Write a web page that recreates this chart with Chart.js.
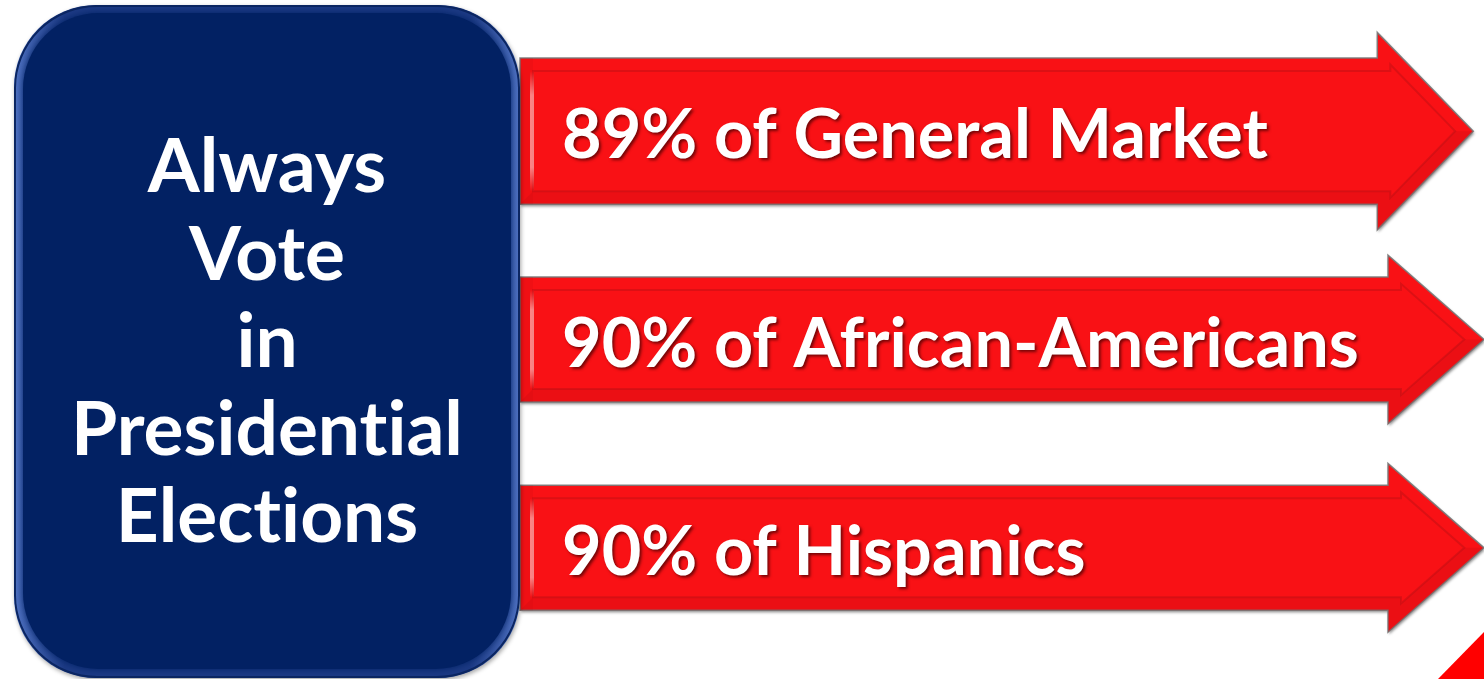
<!DOCTYPE html>
<html>
<head>
<meta charset="utf-8">
<script src="https://cdn.jsdelivr.net/npm/chart.js@4.4.1/dist/chart.umd.min.js"></script>
<style>
  html, body { margin: 0; padding: 0; background: #fff; }
  #wrap { width: 1484px; height: 679px; }
</style>
</head>
<body>
<div id="wrap"><canvas id="voteChart" width="1484" height="679"></canvas></div>
<script>
// data
const groups = ["General Market", "African-Americans", "Hispanics"];
const pct = [89, 90, 90];
const titleLines = ["Always", "Vote", "in", "Presidential", "Elections"];

// look
const FONT = "Lato";
const RED = "#f91115";
const NAVY = "#022163";
const arrowBoost = [1.17, 1, 1];   // first arrow is drawn a bit fatter
const HEAD_LEN = 96;
const HEAD_RATIO = 1.35;

const labels = groups.map((g, i) => pct[i] + "% of " + g);

// font size so that a sample string gets a given width
function fitFont(ctx, sample, width) {
  ctx.font = "bold 100px " + FONT;
  return 100 * width / ctx.measureText(sample).width;
}

function arrowPoints(x0, x1, cy, h, hh, L) {
  return [
    [x0, cy - h], [x1 - L, cy - h], [x1 - L, cy - hh], [x1, cy],
    [x1 - L, cy + hh], [x1 - L, cy + h], [x0, cy + h]
  ];
}

function innerPoints(x0, x1, cy, h, hh, L, d) {
  const len = Math.hypot(L, hh);
  const ax = x1 - L - d * hh / len;
  const ay = cy - hh + d * L / len;
  const bx = x1 - L + d;
  const by = ay + (bx - ax) / L * hh;
  const tx = ax + (cy - ay) / hh * L;
  return [
    [x0 + d, cy - h + d], [bx, cy - h + d], [bx, by], [tx, cy],
    [bx, 2 * cy - by], [bx, cy + h - d], [x0 + d, cy + h - d]
  ];
}

function poly(ctx, pts) {
  ctx.beginPath();
  pts.forEach((p, i) => i ? ctx.lineTo(p[0], p[1]) : ctx.moveTo(p[0], p[1]));
  ctx.closePath();
}

function roundBox(ctx, x, y, w, h, r) {
  ctx.beginPath();
  ctx.moveTo(x + r, y);
  ctx.lineTo(x + w - r, y);
  ctx.arcTo(x + w, y, x + w, y + r, r);
  ctx.lineTo(x + w, y + h - r);
  ctx.arcTo(x + w, y + h, x + w - r, y + h, r);
  ctx.lineTo(x + r, y + h);
  ctx.arcTo(x, y + h, x, y + h - r, r);
  ctx.lineTo(x, y + r);
  ctx.arcTo(x, y, x + r, y, r);
  ctx.closePath();
}

const infographic = {
  id: "infographic",
  afterDatasetsDraw(chart) {
    const ctx = chart.ctx;
    const meta = chart.getDatasetMeta(0);
    ctx.textRendering = "optimizeSpeed";   // no "ti" ligature

    // arrows, one per bar
    const txtSize = fitFont(ctx, "90% of African-Americans", 797);
    meta.data.forEach((bar, i) => {
      const x0 = bar.base, x1 = bar.x, cy = bar.y;
      const h = bar.height / 2 * arrowBoost[i];
      const hh = h * HEAD_RATIO;
      const outer = arrowPoints(x0, x1, cy, h, hh, HEAD_LEN);
      const inner = innerPoints(x0, x1, cy, h, hh, HEAD_LEN, 13);

      ctx.save();
      ctx.shadowColor = "rgba(0,0,0,0.45)";
      ctx.shadowBlur = 3;
      ctx.shadowOffsetX = 1;
      ctx.shadowOffsetY = 2;
      poly(ctx, outer);
      ctx.fillStyle = RED;
      ctx.fill();
      ctx.restore();

      ctx.save();
      poly(ctx, outer);
      ctx.strokeStyle = "rgba(120,120,120,0.9)";
      ctx.lineWidth = 1.5;
      ctx.stroke();

      // bevel: darker lower bands, soft inner rim
      ctx.fillStyle = "rgba(170,10,15,0.18)";
      ctx.beginPath();
      ctx.moveTo(outer[3][0], outer[3][1]);
      ctx.lineTo(outer[4][0], outer[4][1]);
      ctx.lineTo(outer[5][0], outer[5][1]);
      ctx.lineTo(outer[6][0], outer[6][1]);
      ctx.lineTo(inner[6][0], inner[6][1]);
      ctx.lineTo(inner[5][0], inner[5][1]);
      ctx.lineTo(inner[4][0], inner[4][1]);
      ctx.lineTo(inner[3][0], inner[3][1]);
      ctx.closePath();
      ctx.fill();
      ctx.fillStyle = "rgba(170,10,15,0.10)";
      ctx.fillRect(outer[0][0], outer[0][1], 13, outer[6][1] - outer[0][1]);

      poly(ctx, inner);
      ctx.strokeStyle = "rgba(185,15,20,0.45)";
      ctx.lineWidth = 2;
      ctx.stroke();

      // left highlight strip
      const g = ctx.createLinearGradient(0, inner[0][1], 0, inner[6][1]);
      g.addColorStop(0, "rgba(255,170,170,0)");
      g.addColorStop(0.2, "rgba(255,170,170,0.75)");
      g.addColorStop(0.8, "rgba(255,170,170,0.75)");
      g.addColorStop(1, "rgba(255,170,170,0)");
      ctx.fillStyle = g;
      ctx.fillRect(inner[0][0] - 3, inner[0][1], 4, inner[6][1] - inner[0][1]);
      ctx.restore();

      // label
      ctx.save();
      ctx.font = "bold " + txtSize + "px " + FONT;
      const cap = ctx.measureText("H").actualBoundingBoxAscent;
      ctx.fillStyle = "#fff";
      ctx.textAlign = "left";
      ctx.textBaseline = "alphabetic";
      ctx.shadowColor = "rgba(60,0,0,0.7)";
      ctx.shadowBlur = 3;
      ctx.shadowOffsetX = 2;
      ctx.shadowOffsetY = 2;
      ctx.fillText(labels[i], 562, cy + cap / 2 + 2);
      ctx.restore();
    });

    // navy rounded panel on the left
    const bx = 14, by = 5, bw = 506, bh = 673, r = 82;
    ctx.save();
    ctx.shadowColor = "rgba(0,0,0,0.35)";
    ctx.shadowBlur = 4;
    ctx.shadowOffsetX = 1;
    ctx.shadowOffsetY = 2;
    roundBox(ctx, bx, by, bw, bh, r);
    const rim = ctx.createLinearGradient(bx, 0, bx + bw, 0);
    rim.addColorStop(0, "#4f72c2");
    rim.addColorStop(0.1, "#1c3a84");
    rim.addColorStop(0.9, "#1c3a84");
    rim.addColorStop(1, "#4f72c2");
    ctx.fillStyle = rim;
    ctx.fill();
    ctx.restore();

    ctx.save();
    roundBox(ctx, bx, by, bw, bh, r);
    ctx.clip();
    ctx.shadowColor = NAVY;
    ctx.shadowBlur = 7;
    roundBox(ctx, bx + 9, by + 8, bw - 18, bh - 17, r - 6);
    ctx.fillStyle = NAVY;
    ctx.fill();
    ctx.shadowBlur = 0;
    roundBox(ctx, bx + 1, by + 1, bw - 2, bh - 2, r);
    ctx.strokeStyle = "#0b2662";
    ctx.lineWidth = 2;
    ctx.stroke();
    ctx.restore();

    // panel text
    const ts = fitFont(ctx, "Presidential", 392);
    ctx.save();
    ctx.font = "bold " + ts + "px " + FONT;
    const cap = ctx.measureText("H").actualBoundingBoxAscent;
    ctx.fillStyle = "#fff";
    ctx.textAlign = "center";
    ctx.textBaseline = "alphabetic";
    titleLines.forEach((t, k) => {
      const cy = 340 + (k - 2) * 87.5;
      ctx.fillText(t, 267, cy + cap / 2);
    });
    ctx.restore();

    // red corner wedge at bottom right
    ctx.save();
    ctx.beginPath();
    ctx.moveTo(1438, 679);
    ctx.lineTo(1484, 632);
    ctx.lineTo(1484, 679);
    ctx.closePath();
    ctx.fillStyle = "#ff0000";
    ctx.fill();
    ctx.restore();
  }
};

new Chart(document.getElementById("voteChart"), {
  type: "bar",
  data: {
    labels: labels,
    datasets: [{
      data: pct,
      backgroundColor: "rgba(0,0,0,0)",
      borderWidth: 0,
      categoryPercentage: 1,
      barPercentage: 0.6
    }]
  },
  options: {
    indexAxis: "y",
    responsive: false,
    animation: false,
    layout: { padding: { left: 520, right: 0, top: 27, bottom: 27 } },
    scales: {
      x: { display: false, min: 0, max: 90 },
      y: { display: false }
    },
    plugins: {
      legend: { display: false },
      tooltip: { enabled: false }
    }
  },
  plugins: [infographic]
});
</script>
</body>
</html>
